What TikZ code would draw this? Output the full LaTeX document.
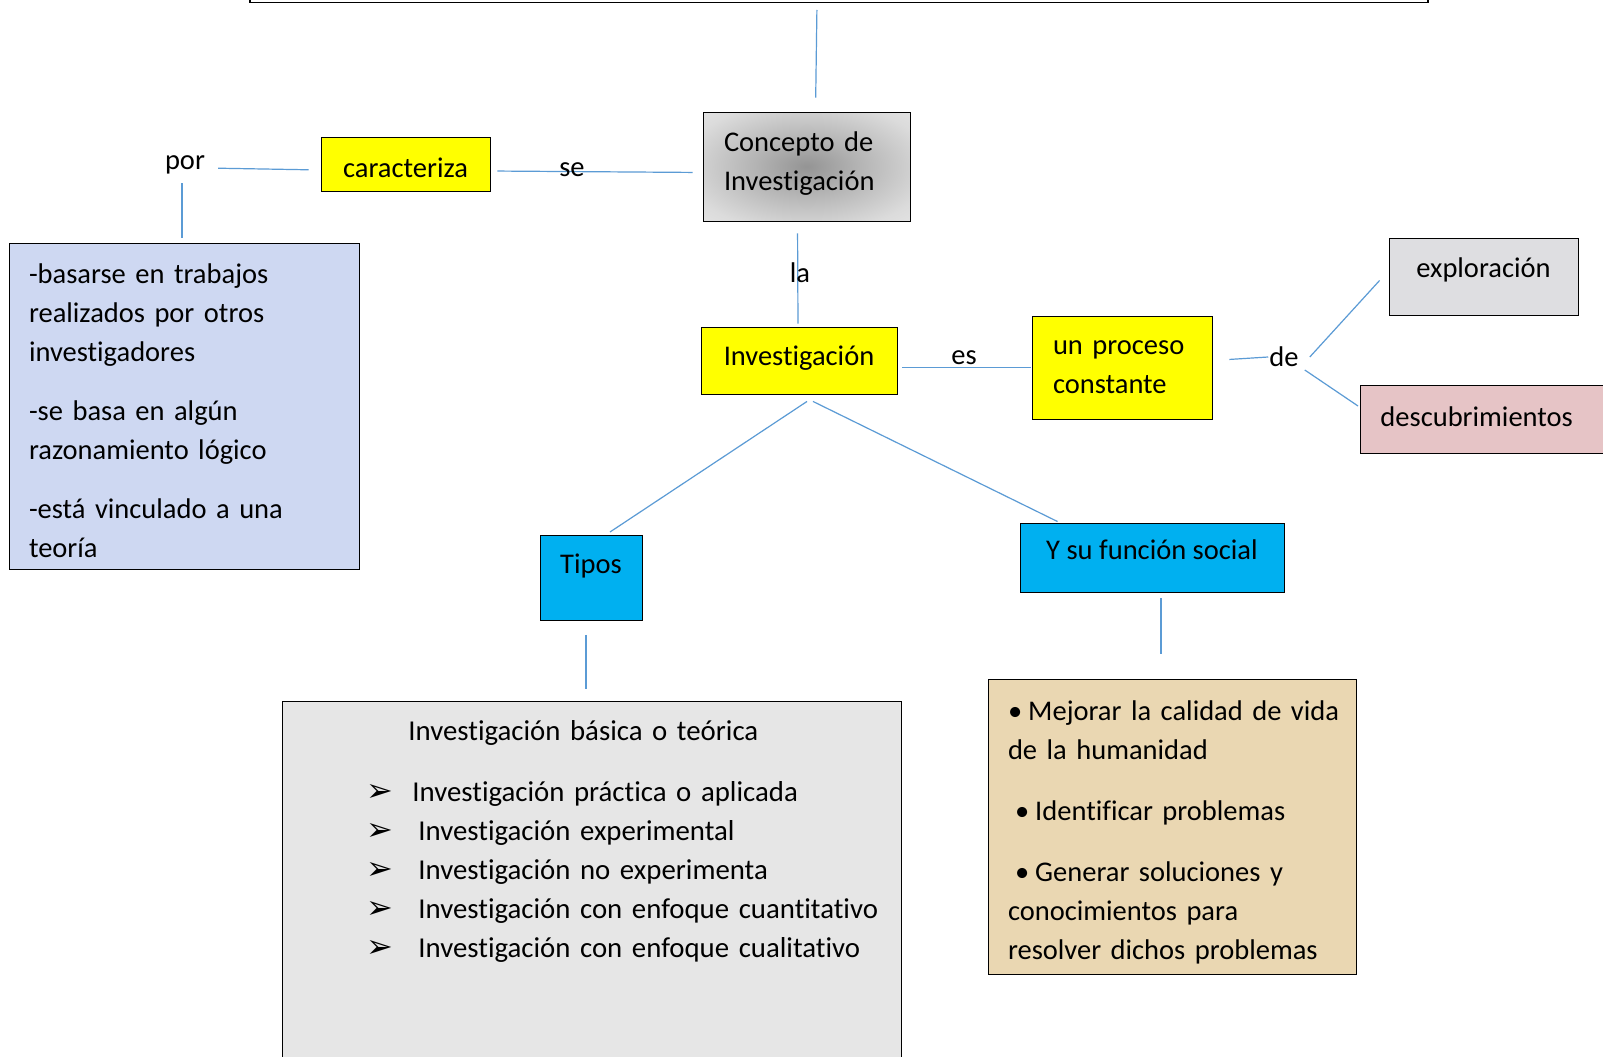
\documentclass[tikz,border=0pt]{standalone}
\usepackage{fontspec}
\setmainfont{Carlito}[Ligatures={NoCommon}]
\newfontfamily\flechas{DejaVu Sans}
\usepackage{tikz}

\definecolor{conector}{RGB}{91,155,213}
\definecolor{amarillo}{RGB}{255,255,0}
\definecolor{celeste}{RGB}{0,176,240}
\definecolor{lila}{RGB}{206,216,242}
\definecolor{granito}{RGB}{230,230,230}
\definecolor{pergamino}{RGB}{234,215,178}
\definecolor{marmol}{RGB}{222,222,225}
\definecolor{rosado}{RGB}{230,196,198}
\pgfdeclareradialshading{difuso}{\pgfpoint{0bp}{0bp}}{color(0bp)=(black!42); color(12bp)=(black!30); color(30bp)=(black!14); color(50bp)=(black!5); color(72bp)=(black!3)}

\begin{document}
\begin{tikzpicture}[x=1pt,y=-1pt,font=\fontsize{28.5}{39}\selectfont,
  caja/.style={draw=black,line width=0.9pt,inner sep=0pt},
  enlace/.style={draw=conector,line width=1.2pt},
  palabra/.style={inner sep=1pt}]
\fill[white] (0,0) rectangle (1603,1057);
\useasboundingbox (0,0) rectangle (1603,1057);
\clip (0,0) rectangle (1603,1057);

\node[caja,anchor=south,minimum width=1178pt,minimum height=60pt,line width=1.3pt] (titulo) at (839,3) {};
\node[caja,shading=difuso,minimum width=207pt,minimum height=109pt,text width=165pt,align=left] (concepto) at (806.5,166.5) {Concepto de\\Investigación\rule[-11pt]{0pt}{0pt}};
\node[caja,fill=amarillo,minimum width=169pt,minimum height=54pt,text height=26pt,text depth=0pt] (caracteriza) at (405.5,164) {caracteriza};
\node[caja,fill=amarillo,minimum width=196pt,minimum height=67pt,text height=20pt,text depth=10pt] (investigacion) at (799,360.5) {Investigación};
\node[caja,fill=amarillo,minimum width=180pt,minimum height=103pt,text width=138pt,align=left] (proceso) at (1122,367.5) {un proceso\\constante};
\node[caja,fill=marmol,minimum width=189pt,minimum height=77pt,text height=16pt,text depth=14pt] (exploracion) at (1483.5,276.5) {exploración};
\node[caja,fill=rosado,anchor=west,minimum width=260pt,minimum height=68pt,text width=220pt,text height=20pt,text depth=5pt,align=left] (descubrimientos) at (1360,419) {descubrimientos};
\node[caja,fill=celeste,anchor=north,minimum width=102pt,text height=38pt,text depth=47pt] (tipos) at (591,535) {Tipos};
\node[caja,fill=celeste,minimum width=264pt,minimum height=69pt,text height=17pt,text depth=13pt] (funcion) at (1152,557.5) {Y su función social};

\node[caja,fill=lila,minimum width=350pt,minimum height=326pt,text width=310pt,align=left] (rasgos) at (184,406)
  {\rule{0pt}{29pt}-basarse en trabajos\\realizados por otros\\investigadores\\[20pt]-se basa en algún\\razonamiento lógico\\[20pt]-está vinculado a una\\teoría};

\node[caja,fill=granito,anchor=north west,minimum width=619pt,text width=579pt,inner ysep=19pt,text depth=420pt,align=left,font=\fontsize{28.8}{39}\selectfont] (tiposlista) at (282,701)
  {\hspace*{106pt}Investigación básica o teórica\\[22pt]
   \hspace*{64pt}\makebox[46pt][l]{\flechas\fontsize{32}{39}\selectfont ➢}Investigación práctica o aplicada\\
   \hspace*{64pt}\makebox[52pt][l]{\flechas\fontsize{32}{39}\selectfont ➢}Investigación experimental\\
   \hspace*{64pt}\makebox[52pt][l]{\flechas\fontsize{32}{39}\selectfont ➢}Investigación no experimenta\\
   \hspace*{64pt}\makebox[52pt][l]{\flechas\fontsize{32}{39}\selectfont ➢}\mbox{Investigación con enfoque cuantitativo}\\
   \hspace*{64pt}\makebox[52pt][l]{\flechas\fontsize{32}{39}\selectfont ➢}\mbox{Investigación con enfoque cualitativo}};

\node[caja,fill=pergamino,minimum width=368pt,minimum height=295pt,text width=328pt,align=left] (funcionlista) at (1172,826.5)
  {\rule{0pt}{31pt}\mbox{•\hspace{6pt}Mejorar la calidad de vida}\\de la humanidad\\[22pt]
   \hspace*{7pt}•\hspace{6pt}Identificar problemas\\[22pt]
   \hspace*{7pt}•\hspace{6pt}Generar soluciones y\\conocimientos para\\\mbox{resolver dichos problemas}};

\node[palabra] (por) at (185,165) {por};
\node[palabra] (es) at (964,358) {es};
\node[palabra] (de) at (1284,357) {de};

\draw[enlace,shorten <=7pt,shorten >=14pt] ([xshift=-22pt]titulo.south) -- ([xshift=9pt]concepto.north);
\draw[enlace,shorten <=7pt,shorten >=10pt] ([yshift=-7pt]caracteriza.east) -- ([yshift=-6pt]concepto.west);
\draw[enlace,shorten <=12pt,shorten >=12pt] ([yshift=-3pt]por.east) -- ([yshift=-6pt]caracteriza.west);
\draw[enlace,shorten <=8pt,shorten >=5pt] ([xshift=-3pt]por.south) -- ([xshift=-3pt]rasgos.north -| por.south);
\draw[enlace,shorten <=12pt,shorten >=3pt] ([xshift=-9pt]concepto.south) -- ([xshift=-1pt]investigacion.north);
\draw[enlace,shorten <=5pt,shorten >=1pt] (investigacion.east |- proceso.west) -- (proceso.west);
\draw[enlace,shorten <=17pt] ([yshift=7pt]proceso.east) -- (de.west);
\draw[enlace] ([xshift=10pt]de.east) -- ([xshift=-9pt,yshift=-4pt]exploracion.west);
\draw[enlace] ([xshift=5pt,yshift=-13pt]de.east) -- ([xshift=-2pt,yshift=13pt]descubrimientos.west);
\draw[enlace] ([xshift=8pt,yshift=-7pt]investigacion.south) -- ([xshift=19pt,yshift=3pt]tipos.north);
\draw[enlace] ([xshift=14pt,yshift=-7pt]investigacion.south) -- ([xshift=38pt,yshift=1pt]funcion.north west);
\draw[enlace,shorten <=14pt,shorten >=12pt] ([xshift=-5pt]tipos.south) -- ([xshift=-5pt]tiposlista.north -| tipos.south);
\draw[enlace,shorten <=6pt,shorten >=25pt] ([xshift=9pt]funcion.south) -- ([xshift=9pt]funcionlista.north -| funcion.south);

\node[palabra] (se) at (572,170) {se};
\node[palabra] (la) at (800,273) {la};
\end{tikzpicture}
\end{document}
